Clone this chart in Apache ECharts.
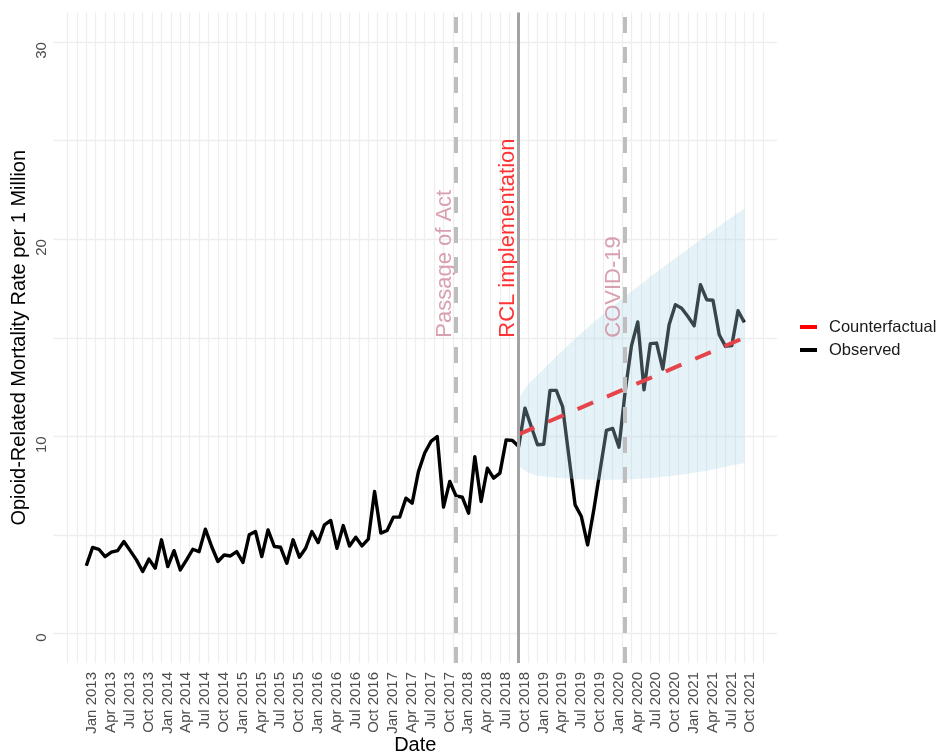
<!DOCTYPE html>
<html>
<head>
<meta charset="utf-8">
<script src="https://cdn.jsdelivr.net/npm/echarts@6/dist/echarts.min.js"></script>
<style>
  html, body { margin: 0; padding: 0; background: #ffffff; }
  #chart { width: 940px; height: 755px; }
</style>
</head>
<body>
<div id="chart"></div>
<script>
// Monthly series, index 0 = Jan 2013
const tickLabels = [
  'Jan 2013','Apr 2013','Jul 2013','Oct 2013',
  'Jan 2014','Apr 2014','Jul 2014','Oct 2014',
  'Jan 2015','Apr 2015','Jul 2015','Oct 2015',
  'Jan 2016','Apr 2016','Jul 2016','Oct 2016',
  'Jan 2017','Apr 2017','Jul 2017','Oct 2017',
  'Jan 2018','Apr 2018','Jul 2018','Oct 2018',
  'Jan 2019','Apr 2019','Jul 2019','Oct 2019',
  'Jan 2020','Apr 2020','Jul 2020','Oct 2020',
  'Jan 2021','Apr 2021','Jul 2021','Oct 2021'
];

const observed = [
  3.43, 4.36, 4.27, 3.90, 4.12, 4.20, 4.66, 4.20, 3.73, 3.14,
  3.77, 3.31, 4.75, 3.39, 4.20, 3.22, 3.73, 4.27, 4.15, 5.29,
  4.41, 3.65, 3.98, 3.93, 4.15, 3.60, 5.00, 5.17, 3.90, 5.25,
  4.41, 4.37, 3.56, 4.75, 3.87, 4.32, 5.17, 4.61, 5.51, 5.73,
  4.32, 5.47, 4.44, 4.88, 4.44, 4.78, 7.20, 5.09, 5.22, 5.90,
  5.90, 6.86, 6.61, 8.21, 9.15, 9.74, 9.99, 6.41, 7.71, 6.98,
  6.91, 6.10, 8.97, 6.69, 8.38, 7.88, 8.13, 9.82, 9.79, 9.48,
  11.43, 10.50, 9.57, 9.60, 12.33, 12.33, 11.51, 9.00, 6.52, 5.93,
  4.49, 6.30, 8.30, 10.30, 10.40, 9.45, 12.30, 14.60, 15.80, 12.36,
  14.70, 14.73, 13.41, 15.66, 16.68, 16.50, 16.08, 15.61, 17.69, 16.93,
  16.90, 15.15, 14.56, 14.60, 16.37, 15.78
];

// Counterfactual trend after implementation (month index, rate)
const cfMonths = [69, 105];
const cfValues = [10.1, 15.0];

// Prediction interval around the counterfactual
const bandMonths = [69, 70, 71, 72, 75, 78, 81, 84, 87, 90, 93, 96, 99, 102, 105];
const bandLower  = [8.50, 8.25, 8.10, 8.00, 7.90, 7.83, 7.80, 7.80, 7.82, 7.88, 7.98, 8.10, 8.25, 8.45, 8.65];
const bandUpper  = [11.90, 12.40, 12.80, 13.10, 14.05, 14.95, 15.80, 16.60, 17.35, 18.10, 18.80, 19.50, 20.20, 20.90, 21.55];

// Events
const eventNames  = ['Passage of Act', 'RCL implementation', 'COVID-19'];
const eventMonths = [59, 69, 86];
const eventLabelY = 15;

const yLabelValues = [0, 10, 20, 30];

const FONT = 'Liberation Sans, Arial, Helvetica, sans-serif';
const GRID_COLOR = '#eeeeee';

// grid positions: every 1.5 months, every 5 units
const xGrid = [];
for (let m = -3; m <= 108; m += 1.5) xGrid.push(m);
const yGrid = [];
for (let v = 0; v <= 30; v += 5) yGrid.push(v);
const xTickPos = tickLabels.map((_, i) => i * 3);

const chart = echarts.init(document.getElementById('chart'), null, { renderer: 'canvas' });

const eventColors = ['#cf8a9c', '#ff0000', '#cf8a9c'];
const eventLineStyles = [
  { color: '#bebebe', width: 4, type: [16, 14] },
  { color: '#a3a3a3', width: 3, type: 'solid' },
  { color: '#bebebe', width: 4, type: [16, 14] }
];

const option = {
  animation: false,
  textStyle: { fontFamily: FONT },
  grid: { left: 53.4, right: 162.8, top: 12.5, bottom: 92, containLabel: false, outerBoundsMode: 'none' },
  legend: {
    orient: 'vertical',
    left: 795,
    top: 313,
    itemWidth: 17,
    itemHeight: 4,
    itemGap: 5,
    selectedMode: false,
    textStyle: { fontSize: 16.5, color: '#1a1a1a', fontFamily: FONT, lineHeight: 18, padding: [0, 0, 0, 7] },
    data: [
      { name: 'Counterfactual', icon: 'rect', itemStyle: { color: '#ff0000', borderWidth: 0 } },
      { name: 'Observed', icon: 'rect', itemStyle: { color: '#000000', borderWidth: 0 } }
    ]
  },
  xAxis: {
    type: 'value',
    min: -5.25,
    max: 110.25,
    axisLine: { show: false },
    axisTick: { show: false, customValues: xGrid },
    splitLine: { show: true, lineStyle: { color: GRID_COLOR, width: 1.3 } },
    axisLabel: {
      customValues: xTickPos,
      formatter: (v) => tickLabels[Math.round(v / 3)] || '',
      rotate: 90,
      margin: 9,
      verticalAlign: 'top',
      lineHeight: 12,
      color: '#4d4d4d',
      fontSize: 15,
      fontFamily: FONT
    },
    name: 'Date',
    nameLocation: 'middle',
    nameGap: 72,
    nameMoveOverlap: false,
    nameTextStyle: { fontSize: 20, color: '#000000', fontFamily: FONT }
  },
  yAxis: {
    type: 'value',
    min: -1.5,
    max: 31.5,
    axisLine: { show: false },
    axisTick: { show: false, customValues: yGrid },
    splitLine: { show: true, lineStyle: { color: GRID_COLOR, width: 1.3 } },
    axisLabel: {
      customValues: yLabelValues,
      rotate: 90,
      align: 'right',
      margin: 4,
      color: '#4d4d4d',
      fontSize: 15,
      fontFamily: FONT
    },
    name: 'Opioid-Related Mortality Rate per 1 Million',
    nameLocation: 'middle',
    nameRotate: 90,
    nameGap: 24,
    nameMoveOverlap: false,
    nameTextStyle: { fontSize: 20, color: '#000000', fontFamily: FONT }
  },
  series: [
    {
      name: 'Observed',
      type: 'line',
      z: 2,
      symbol: 'none',
      showSymbol: false,
      data: observed.map((v, i) => [i, v]),
      lineStyle: { color: '#000000', width: 3.4, join: 'round', cap: 'butt' },
      itemStyle: { color: '#000000' },
      markLine: {
        silent: true,
        symbol: 'none',
        label: { show: false },
        data: eventMonths.map((m, i) => ({ xAxis: m, lineStyle: eventLineStyles[i] }))
      }
    },
    {
      name: 'Counterfactual',
      type: 'line',
      z: 2,
      symbol: 'none',
      showSymbol: false,
      data: cfMonths.map((m, i) => [m, cfValues[i]]),
      lineStyle: { color: '#ff0000', width: 4, type: [17, 15] },
      itemStyle: { color: '#ff0000' }
    },
    {
      name: 'interval',
      type: 'custom',
      z: 3,
      silent: true,
      data: [[bandMonths[0], bandLower[0], bandUpper[0]]],
      renderItem: function (params, api) {
        const pts = [];
        for (let i = 0; i < bandMonths.length; i++) pts.push(api.coord([bandMonths[i], bandUpper[i]]));
        for (let i = bandMonths.length - 1; i >= 0; i--) pts.push(api.coord([bandMonths[i], bandLower[i]]));
        return {
          type: 'polygon',
          shape: { points: pts },
          style: { fill: 'rgba(173,216,230,0.32)', stroke: null }
        };
      }
    },
    {
      name: 'events',
      type: 'scatter',
      z: 4,
      silent: true,
      symbolSize: 1,
      itemStyle: { color: 'rgba(0,0,0,0)' },
      data: eventMonths.map((m, i) => ({
        value: [m, eventLabelY],
        label: { color: eventColors[i] }
      })),
      label: {
        show: true,
        position: 'inside',
        formatter: (p) => eventNames[p.dataIndex],
        rotate: 90,
        align: 'left',
        verticalAlign: 'bottom',
        fontSize: 22,
        fontFamily: FONT
      },
      labelLayout: { hideOverlap: false }
    }
  ]
};

chart.setOption(option);
</script>
</body>
</html>
